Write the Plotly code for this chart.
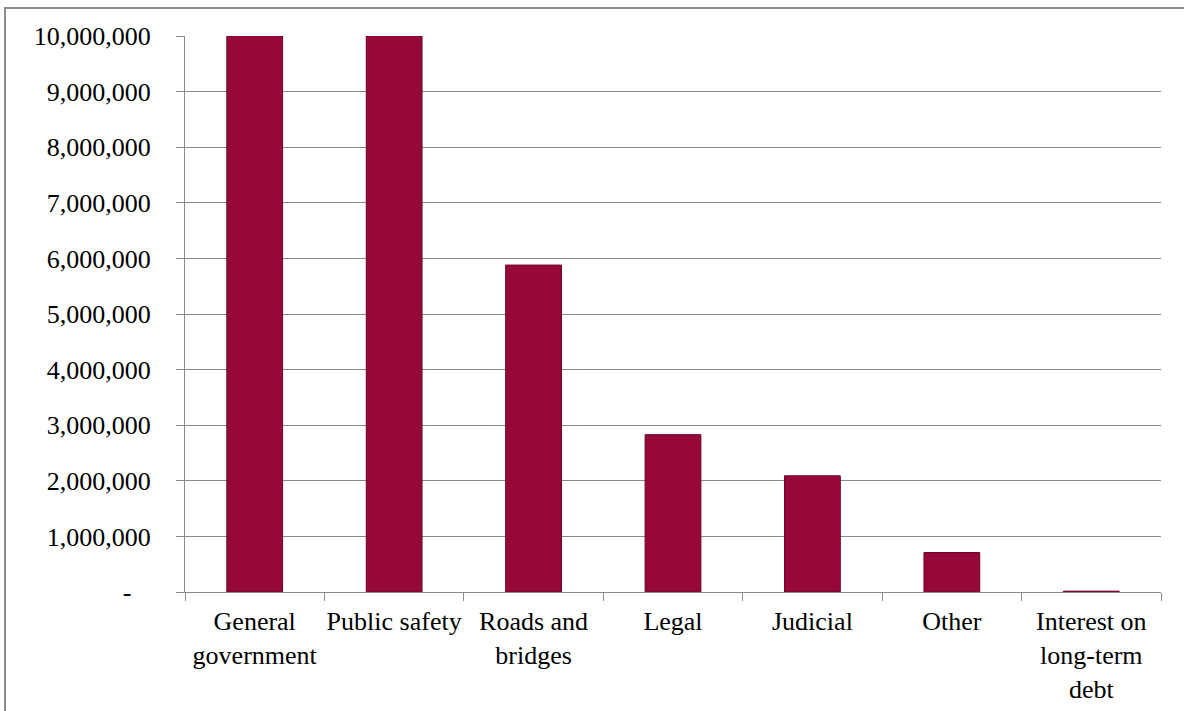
import plotly.graph_objects as go

categories = ["General<br>government", "Public safety", "Roads and<br>bridges", "Legal",
              "Judicial", "Other", "Interest on<br>long-term<br>debt"]
values = [12000000, 11500000, 5880000, 2830000, 2090000, 710000, 15000]
tick_vals = [0, 1000000, 2000000, 3000000, 4000000, 5000000, 6000000, 7000000, 8000000, 9000000, 10000000]
tick_text = ["-\u00a0\u00a0\u00a0"] + [f"{v:,}" for v in tick_vals[1:]]

W, H = 1184, 711
ml, mr, mt, mb = 185, 23, 36, 119

fig = go.Figure(go.Bar(
    x=categories, y=values,
    marker=dict(color="#96073A", line=dict(color="#6E0229", width=1)),
    width=0.4,
))

font = dict(family="Liberation Serif, Times New Roman, serif", size=26, color="#000000")

fig.update_layout(
    width=W, height=H,
    margin=dict(l=ml, r=mr, t=mt, b=mb, autoexpand=False),
    paper_bgcolor="white", plot_bgcolor="white",
    font=font, showlegend=False,
    bargap=0.6,
)
fig.update_xaxes(
    type="category", tickson="boundaries", ticks="outside", ticklen=8, tickcolor="#888888",
    showline=True, linecolor="#888888", linewidth=1, showgrid=False,
    tickfont=font, ticklabelstandoff=6, tickangle=0, automargin=False,
)
fig.update_yaxes(
    range=[0, 10000000], tickvals=tick_vals, ticktext=tick_text,
    ticks="outside", ticklen=8, tickcolor="#888888",
    showline=True, linecolor="#888888", linewidth=1,
    showgrid=True, gridcolor="#888888", gridwidth=1, zeroline=False,
    tickfont=font, ticklabelstandoff=20, automargin=False,
)
pw, ph = W - ml - mr, H - mt - mb
fig.add_shape(type="rect", xref="paper", yref="paper",
              x0=(5 - ml) / pw, x1=(W + 10 - ml) / pw,
              y0=-(H + 10 - mt - ph) / ph, y1=(H - 8 - mb) / ph,
              line=dict(color="#8C8C8C", width=2), fillcolor="rgba(0,0,0,0)", layer="below")

fig.write_html("out.html")
